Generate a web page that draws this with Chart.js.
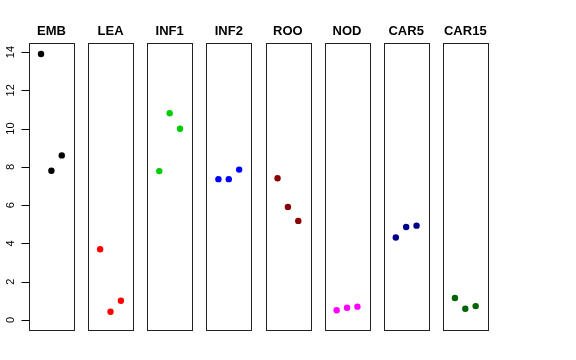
<!DOCTYPE html>
<html><head><meta charset="utf-8">
<script src="https://cdn.jsdelivr.net/npm/chart.js@4/dist/chart.umd.min.js"></script>
<style>html,body{margin:0;padding:0;background:#fff}#wrap{width:576px;height:360px;position:relative}canvas{display:block}</style>
</head><body><div id="wrap"><canvas id="c" width="576" height="360"></canvas></div>
<script>
const categories = ['EMB', 'LEA', 'INF1', 'INF2', 'ROO', 'NOD', 'CAR5', 'CAR15'];
const embValues   = [13.9, 7.8, 8.6];
const leaValues   = [3.7, 0.43, 1.01];
const inf1Values  = [7.78, 10.8, 9.99];
const inf2Values  = [7.36, 7.36, 7.86];
const rooValues   = [7.41, 5.91, 5.18];
const nodValues   = [0.51, 0.64, 0.70];
const car5Values  = [4.31, 4.86, 4.93];
const car15Values = [1.15, 0.59, 0.73];
const yTicks = [0, 2, 4, 6, 8, 10, 12, 14];
const colors = ['#000000', '#FF0000', '#00CD00', '#0000FF', '#8B0000', '#FF00FF', '#00008B', '#006400'];

const seriesValues = [embValues, leaValues, inf1Values, inf2Values, rooValues, nodValues, car5Values, car15Values];
const STEP = 5.70;       // panel spacing in x units
const XLO = -0.16, XHI = 4.16; // each panel spans xlim c(0,4) extended 4%
const YLO = -0.556, YHI = 14.456;

const datasets = seriesValues.map((vals, k) => ({
  label: categories[k],
  data: vals.map((v, i) => ({ x: k * STEP + i + 1, y: v })),
  backgroundColor: colors[k],
  borderColor: colors[k],
  pointRadius: 3.2,
  pointHoverRadius: 3.2,
  borderWidth: 0,
  showLine: false
}));

const FONT = '"Liberation Sans", Arial, Helvetica, sans-serif';

const panelPlugin = {
  id: 'panels',
  afterDraw(chart) {
    const ctx = chart.ctx;
    const xs = chart.scales.x, ys = chart.scales.y;
    const top = ys.getPixelForValue(YHI), bottom = ys.getPixelForValue(YLO);
    ctx.save();
    categories.forEach((name, k) => {
      const l = xs.getPixelForValue(k * STEP + XLO);
      const r = xs.getPixelForValue(k * STEP + XHI);
      ctx.strokeStyle = '#222';
      ctx.lineWidth = 1;
      ctx.strokeRect(Math.round(l) + 0.5, Math.round(top) + 0.5, Math.round(r - l), Math.round(bottom - top));
      ctx.fillStyle = '#000';
      ctx.font = 'bold 13px ' + FONT;
      ctx.textAlign = 'center';
      ctx.textBaseline = 'alphabetic';
      ctx.fillText(name, (l + r) / 2, 34.5);
    });
    // y axis on first panel
    const axX = Math.round(xs.getPixelForValue(XLO)) + 0.5;
    ctx.strokeStyle = '#000';
    ctx.beginPath();
    yTicks.forEach(t => {
      const y = Math.round(ys.getPixelForValue(t)) + 0.5;
      ctx.moveTo(axX - 8, y);
      ctx.lineTo(axX, y);
    });
    ctx.stroke();
    ctx.font = '11px ' + FONT;
    ctx.fillStyle = '#000';
    ctx.textAlign = 'center';
    ctx.textBaseline = 'alphabetic';
    yTicks.forEach(t => {
      const y = ys.getPixelForValue(t);
      ctx.save();
      ctx.translate(14, y);
      ctx.rotate(-Math.PI / 2);
      ctx.fillText(String(t), 0, 0);
      ctx.restore();
    });
    ctx.restore();
  }
};

new Chart(document.getElementById('c'), {
  type: 'scatter',
  data: { datasets },
  options: {
    responsive: false,
    animation: false,
    events: [],
    layout: { padding: { left: 29, right: 88.3, top: 43.3, bottom: 29.3 } },
    plugins: { legend: { display: false }, tooltip: { enabled: false } },
    scales: {
      x: { type: 'linear', display: false, min: XLO, max: 7 * STEP + XHI },
      y: { type: 'linear', display: false, min: YLO, max: YHI }
    }
  },
  plugins: [panelPlugin]
});
</script></body></html>
